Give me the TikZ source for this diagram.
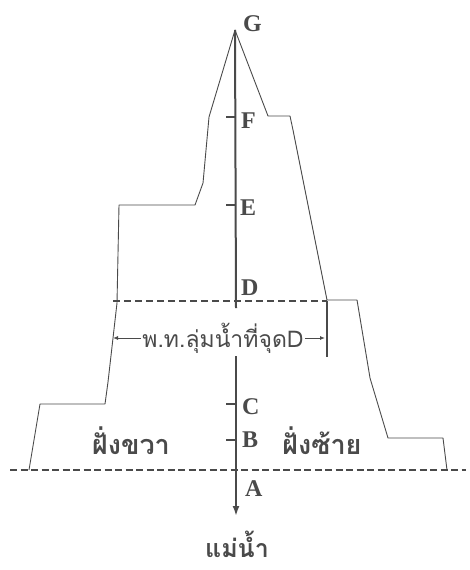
\documentclass[tikz,border=0pt]{standalone}
\usepackage{fontspec}
\setmainfont{Liberation Serif}
\newfontfamily\thaifont[Script=Thai]{Loma}
\usetikzlibrary{arrows.meta}
\definecolor{ink}{HTML}{4A4A4A}
\tikzset{
  outline/.style={draw=ink, line width=0.9pt, line join=round},
  axisline/.style={draw=ink, line width=2pt},
  tickline/.style={draw=ink, line width=1.8pt},
  letter/.style={text=ink, font=\bfseries\fontsize{24}{24}\selectfont, inner sep=0pt, anchor=west},
  thaibold/.style={text=ink, font=\thaifont\bfseries\fontsize{27}{27}\selectfont, inner sep=0pt},
  dimlabel/.style={text=ink, font=\thaifont\fontsize{23}{23}\selectfont, inner sep=1pt},
}
\begin{document}
\begin{tikzpicture}[x=1pt,y=-1pt]
\useasboundingbox (0,0) rectangle (470,570);
% outline of the basin
\draw[outline] (29,470) -- (40,404) -- (105,404) -- (108,382) -- (117,303) -- (119,205) -- (195,205) -- (203,183) -- (209,117) -- (235,30)
  -- (268,116) -- (290,116) -- (293,130) -- (305,190) -- (327,300) -- (357,300) -- (370,378) -- (388,438) -- (443,438) -- (447,470);
% points on axis
\coordinate (G) at (235,30);
\coordinate (Dtop) at (236,308);
\coordinate (Lbot) at (236,356);
\coordinate (tip) at (236,516);
\coordinate (F) at (236,117);
\coordinate (E) at (236,205);
\coordinate (C) at (236,404);
\coordinate (B) at (236,440);
% axis
\draw[axisline] (G) -- (Dtop);
\draw[axisline, -{Latex[length=10pt,width=7pt]}] (Lbot) -- (tip);
% ticks
\foreach \p in {F,E,C,B} \draw[tickline] (\p) -- ++(-10,0);
% labels
\node[letter] at (243,24) {G};
\node[letter] at (241,121) {F};
\node[letter] at (240,208) {E};
\node[letter] at (241,288) {D};
\node[letter] at (242,407) {C};
\node[letter] at (242,440) {B};
\node[letter] at (245,489) {A};
% water-level lines
\coordinate (Dl) at (113,301);
\coordinate (Dr) at (327,301);
\draw[draw=ink, line width=1.5pt, dash pattern=on 7pt off 4pt] (Dl) -- (Dr);
\coordinate (Al) at (10,470);
\coordinate (Ar) at (466,470);
\draw[draw=ink, line width=1.5pt, dash pattern=on 7pt off 3.5pt] (Al) -- (Ar);
% width marker
\coordinate (Mt) at (327,301);
\coordinate (Mb) at (327,357);
\draw[tickline] (Mt) -- (Mb);
\node[dimlabel] (dim) at (223,338) {พ.ท.ลุ่มน้ำที่จุดD};
\coordinate (arrL) at (113,338);
\coordinate (arrR) at (325,338);
\draw[draw=ink, line width=0.9pt, -{Latex[length=5pt,width=4pt]}] (dim.west) -- (arrL);
\draw[draw=ink, line width=0.9pt, -{Latex[length=5pt,width=4pt]}] (dim.east) -- (arrR);
% bank and river names
\node[thaibold] at (131,441) {ฝั่งขวา};
\node[thaibold] at (322,441) {ฝั่งซ้าย};
\node[thaibold, font=\thaifont\bfseries\fontsize{25}{25}\selectfont] at (237,544) {แม่น้ำ};
\end{tikzpicture}
\end{document}
